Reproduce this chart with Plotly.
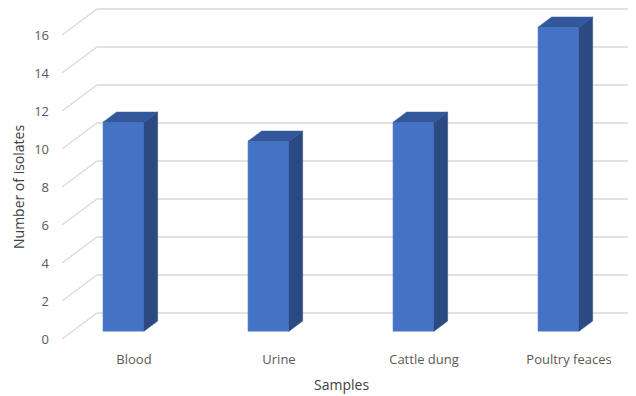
import plotly.graph_objects as go

categories = ["Blood", "Urine", "Cattle dung", "Poultry feaces"]
isolates = [11, 10, 11, 16]
y_ticks = [0, 2, 4, 6, 8, 10, 12, 14, 16]

# page body has an 8px margin -> the figure is drawn 8px in; work in figure pixels
FIG_W, FIG_H = 628, 388
ML, MB = 54, 57

# oblique "3-D" projection (in axis units)
PX_X = 145.0      # pixels per category step
PX_Y = 19.0       # pixels per value unit
DEPTH_DX = 35.0 / PX_X
DEPTH_DY = 26.0 / PX_Y
X_LEFT = -51.0 / PX_X                     # left edge of floor (front plane)
X_RIGHT = X_LEFT + (FIG_W - ML) / PX_X    # right edge of plot
Y_TOP = (FIG_H - MB) / PX_Y
D_FRONT, D_BACK = 0.30, 0.69              # bar depth span
HALF_W = 20.5 / PX_X
LABEL_OFF = 21.0 / PX_X


def proj(x, v, d):
    return x + DEPTH_DX * d, v + DEPTH_DY * d


fig = go.Figure()
grid = dict(color="#D9D9D9", width=1.3)

shapes = []
for t in y_ticks:
    x0, y0 = proj(X_LEFT, t, 0)
    x1, y1 = proj(X_LEFT, t, 1)
    shapes.append(dict(type="line", xref="x", yref="y", x0=x0, y0=y0, x1=x1, y1=y1,
                       line=grid, layer="below"))
    shapes.append(dict(type="line", xref="x", yref="y", x0=x1, y0=y1, x1=X_RIGHT, y1=y1,
                       line=grid, layer="below"))

FRONT = "#4472C4"
SIDE = "#2C4A82"
TOP = "#33579B"

# front faces
fx = [proj(i, 0, D_FRONT)[0] for i in range(len(categories))]
base = DEPTH_DY * D_FRONT
fig.add_trace(go.Bar(x=fx, y=isolates, base=[base] * len(isolates), width=2 * HALF_W,
                     marker=dict(color=FRONT, line=dict(color="#5A86D0", width=0.6)),
                     showlegend=False, hovertext=categories))

for i, (c, v) in enumerate(zip(categories, isolates)):
    xl = i - HALF_W
    xr = i + HALF_W
    # side face
    pts = [proj(xr, 0, D_FRONT), proj(xr, v, D_FRONT), proj(xr, v, D_BACK), proj(xr, 0, D_BACK)]
    fig.add_trace(go.Scatter(x=[p[0] for p in pts] + [pts[0][0]], y=[p[1] for p in pts] + [pts[0][1]],
                             mode="lines", fill="toself", fillcolor=SIDE,
                             line=dict(color=SIDE, width=0.5), hoverinfo="skip", showlegend=False))
    # top face
    pts = [proj(xl, v, D_FRONT), proj(xr, v, D_FRONT), proj(xr, v, D_BACK), proj(xl, v, D_BACK)]
    fig.add_trace(go.Scatter(x=[p[0] for p in pts] + [pts[0][0]], y=[p[1] for p in pts] + [pts[0][1]],
                             mode="lines", fill="toself", fillcolor=TOP,
                             line=dict(color=TOP, width=0.5), hoverinfo="skip", showlegend=False))

font = "Open Sans"
fig.update_layout(
    width=FIG_W, height=FIG_H,
    margin=dict(l=ML, r=0, t=0, b=MB),
    paper_bgcolor="white", plot_bgcolor="white",
    font=dict(family=font, size=13, color="#595959"),
    shapes=shapes,
    xaxis=dict(range=[X_LEFT, X_RIGHT], showgrid=False, zeroline=False, showline=False,
               tickvals=[i + LABEL_OFF for i in range(len(categories))], ticktext=categories,
               ticks="", ticklabelstandoff=11, tickfont=dict(size=13, color="#595959")),
    yaxis=dict(range=[0, Y_TOP], showgrid=False, zeroline=False, showline=False,
               tickvals=y_ticks, ticks="", ticklabelstandoff=12,
               tickfont=dict(size=13, color="#595959")),
)

# annotations placed by figure pixel position (page pixel - 8)
W, H = FIG_W - ML, FIG_H - MB
def px(xp, yp):
    return (xp - ML) / W, (FIG_H - MB - yp) / H

ax, ay = px(333, 376)
bx, by = px(10, 179)
fig.update_layout(annotations=[
    dict(text="Samples", x=ax, y=ay, xref="paper", yref="paper", showarrow=False,
         xanchor="center", yanchor="middle", font=dict(size=14, color="#404040")),
    dict(text="Number of isolates", x=bx, y=by, xref="paper", yref="paper", showarrow=False,
         xanchor="center", yanchor="middle", textangle=-90, font=dict(size=14, color="#404040")),
])

fig.write_html("out.html")
